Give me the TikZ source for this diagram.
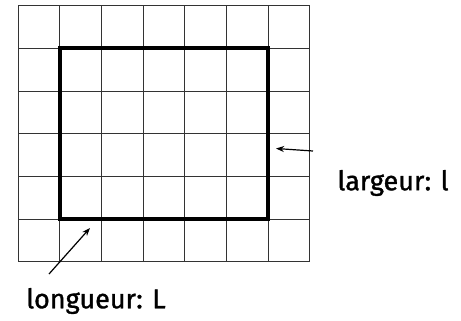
\documentclass[tikz,border=0pt]{standalone}
\usepackage{fontspec}
\setmainfont{Fira Sans}
\newfontfamily\lblfont{Fira Sans}[FakeBold=1.2]
\usetikzlibrary{arrows.meta, positioning}

\begin{document}
\begin{tikzpicture}[
    x=1pt, y=-1pt,
    gridline/.style={draw=black!80, line width=1pt},
    frame/.style={draw, line width=4pt, line join=miter},
    lbl/.style={font=\lblfont\fontsize{27}{30}\selectfont, inner sep=0pt},
    arr/.style={-{Stealth[length=8pt, width=6pt]}, line width=1.2pt}
]
\useasboundingbox (0,0) rectangle (461,321);

% grid 7 x 6
\foreach \i in {0,...,7}
    \draw[gridline] (18+\i*41.7,5.7) -- (18+\i*41.7,261.7);
\foreach \j in {0,...,6}
    \draw[gridline] (18,5.7+\j*42.67) -- (310,5.7+\j*42.67);

% rectangle
\draw[frame] (59.7,48.4) rectangle (268.2,219);

\node[lbl] (wlabel) at (393,183) {largeur: l};
\node[lbl] (llabel) at (96,301) {longueur: L};

\coordinate (wtail) at (313,151);
\coordinate (wtip) at (276,148.5);
\coordinate (ltail) at (49,274);
\coordinate (ltip) at (90,228);

\draw[arr] (wtail) -- (wtip);
\draw[arr] (ltail) -- (ltip);

\end{tikzpicture}
\end{document}
